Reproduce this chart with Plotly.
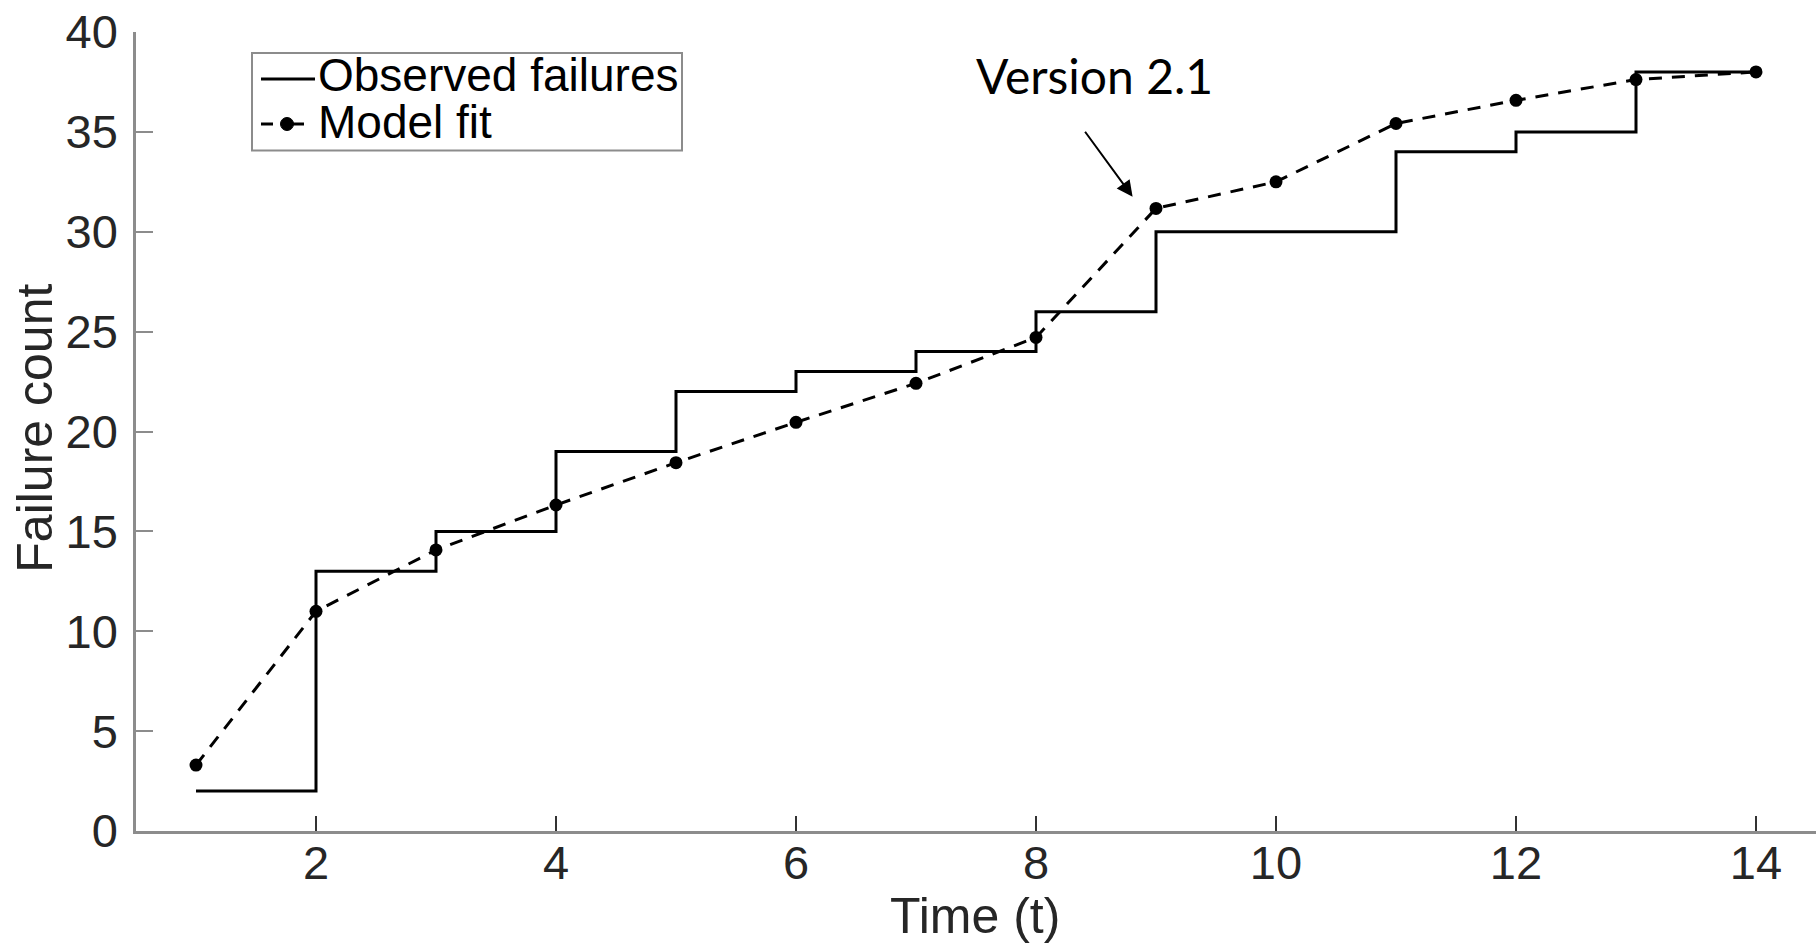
import plotly.graph_objects as go

# ---- data ----
time_t = [1, 2, 3, 4, 5, 6, 7, 8, 9, 10, 11, 12, 13, 14]
observed_failures = [2, 13, 15, 19, 22, 23, 24, 26, 30, 30, 34, 35, 38, 38]
model_fit = [3.3, 11.0, 14.07, 16.32, 18.44, 20.46, 22.41, 24.71, 31.17, 32.5, 35.42, 36.58, 37.62, 38.0]
x_ticks = [2, 4, 6, 8, 10, 12, 14]
y_ticks = [0, 5, 10, 15, 20, 25, 30, 35, 40]
series_names = ["Observed failures", "Model fit"]
x_title = "Time (t)"
y_title = "Failure count"
annotation_label = "Version 2.1"
annotation_point = (8.805, 31.75)
annotation_tail = (8.40, 35.08)

FONT = "Liberation Sans, Arial, Helvetica, sans-serif"
W, H = 1816, 945
ML, MR, MT, MB = 136, 0, 32, 114
PW, PH = W - ML - MR, H - MT - MB


def px_x(px):
    return (px - ML) / PW


def px_y(py):
    return (H - MB - py) / PH


fig = go.Figure()
fig.add_trace(go.Scatter(
    x=time_t, y=observed_failures, mode="lines", name=series_names[0],
    line=dict(color="black", width=3, shape="hv"), showlegend=False,
))
fig.add_trace(go.Scatter(
    x=time_t, y=model_fit, mode="lines+markers", name=series_names[1],
    line=dict(color="black", width=3, dash="13px,10px"),
    marker=dict(color="black", size=13), showlegend=False,
))

# annotation arrow + label
fig.add_annotation(
    x=annotation_point[0], y=annotation_point[1], xref="x", yref="y",
    ax=annotation_tail[0], ay=annotation_tail[1], axref="x", ayref="y",
    text="", showarrow=True, arrowhead=2, arrowsize=1.6, arrowwidth=2,
    arrowcolor="black",
)
fig.add_annotation(
    x=8.49, y=37.8, xref="x", yref="y", text=annotation_label,
    showarrow=False, font=dict(family="Lato, Noto Sans, sans-serif", size=48, color="black"),
    xanchor="center", yanchor="middle",
)

# axis titles
fig.add_annotation(
    x=px_x(975), y=px_y(915.7), xref="paper", yref="paper", text=x_title,
    showarrow=False, xanchor="center", yanchor="middle",
    font=dict(family=FONT, size=50, color="#262626"),
)
fig.add_annotation(
    x=px_x(34.7), y=px_y(428), xref="paper", yref="paper", text=y_title,
    showarrow=False, xanchor="center", yanchor="middle", textangle=-90,
    font=dict(family=FONT, size=50, color="#262626"),
)

# legend (box, samples, labels)
shapes = [
    dict(type="rect", xref="paper", yref="paper",
         x0=px_x(252), x1=px_x(682), y0=px_y(150.5), y1=px_y(53),
         line=dict(color="#8c8c8c", width=2), fillcolor="white", layer="below"),
    dict(type="line", xref="paper", yref="paper",
         x0=px_x(261), x1=px_x(315), y0=px_y(79), y1=px_y(79),
         line=dict(color="black", width=3)),
    dict(type="line", xref="paper", yref="paper",
         x0=px_x(261), x1=px_x(273), y0=px_y(124), y1=px_y(124),
         line=dict(color="black", width=3)),
    dict(type="line", xref="paper", yref="paper",
         x0=px_x(293), x1=px_x(304), y0=px_y(124), y1=px_y(124),
         line=dict(color="black", width=3)),
    dict(type="circle", xref="paper", yref="paper",
         x0=px_x(280.5), x1=px_x(293.5), y0=px_y(130.5), y1=px_y(117.5),
         line=dict(color="black", width=1), fillcolor="black"),
]
for name, cy in zip(series_names, [75.5, 121.5]):
    fig.add_annotation(
        x=px_x(316), y=px_y(cy), xref="paper", yref="paper", text=name,
        showarrow=False, xanchor="left", yanchor="middle",
        font=dict(family=FONT, size=46, color="black"),
    )

fig.update_layout(
    width=W, height=H,
    margin=dict(l=ML, r=MR, t=MT, b=MB, autoexpand=False),
    plot_bgcolor="white", paper_bgcolor="white",
    font=dict(family=FONT, color="#262626"),
    showlegend=False,
    shapes=shapes,
)
fig.update_xaxes(
    range=[0.5, 14.5], tickvals=x_ticks, ticktext=[str(v) for v in x_ticks],
    showgrid=False, zeroline=False, showline=True, linecolor="#8c8c8c", linewidth=2.5,
    ticks="inside", ticklen=15, tickwidth=1.5, tickcolor="#333333",
    tickfont=dict(family=FONT, size=47, color="#262626"),
    ticklabelstandoff=-11,
    automargin=False,
)
fig.update_yaxes(
    range=[0, 40], tickvals=y_ticks, ticktext=[str(v) for v in y_ticks],
    showgrid=False, zeroline=False, showline=True, linecolor="#8c8c8c", linewidth=2.5,
    ticks="inside", ticklen=17, tickwidth=2, tickcolor="#8c8c8c",
    tickfont=dict(family=FONT, size=47, color="#262626"),
    ticklabelstandoff=6,
    automargin=False,
)

fig.write_html("out.html", config={"displayModeBar": False},
               post_script="document.body.style.margin='0';")
